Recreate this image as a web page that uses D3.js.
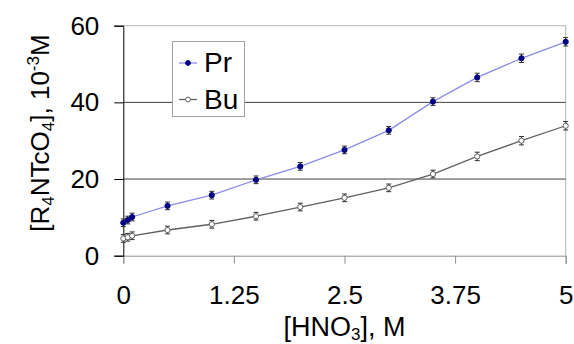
<!DOCTYPE html>
<html><head><meta charset="utf-8">
<script src="https://cdn.jsdelivr.net/npm/d3@7"></script>
<style>body{margin:0;background:#fff}svg{display:block;font-family:"Liberation Sans",Arial,sans-serif}</style>
</head><body><svg id="c" width="574" height="344"></svg>
<script>
const hno3 = [0, 0.05, 0.1, 0.5, 1, 1.5, 2, 2.5, 3, 3.5, 4, 4.5, 5];
const prValues = [8.6, 9.3, 10.1, 13.0, 15.8, 19.8, 23.3, 27.6, 32.7, 40.2, 46.5, 51.5, 55.8];
const buValues = [4.5, 4.8, 5.2, 6.7, 8.2, 10.3, 12.7, 15.1, 17.7, 21.3, 25.9, 30.0, 33.9];
const prErrors = [1.0, 1.0, 1.0, 1.0, 1.0, 1.0, 1.0, 1.0, 1.0, 1.0, 1.1, 1.1, 1.1];
const buErrors = [1.0, 1.0, 1.0, 1.0, 1.0, 1.0, 1.0, 1.0, 1.0, 1.0, 1.1, 1.1, 1.1];
const xTicks = [0, 1.25, 2.5, 3.75, 5];
const xTickLabels = ["0", "1.25", "2.5", "3.75", "5"];
const yTicks = [0, 20, 40, 60];
const seriesNames = ["Pr", "Bu"];

const svg = d3.select("#c");
const L = 123.3, R = 565.7, T = 25.7, B = 255.7;
const x = d3.scaleLinear().domain([0, 5]).range([L, R]);
const y = d3.scaleLinear().domain([0, 60]).range([B, T]);

// plot border (top/right)
svg.append("line").attr("x1", L).attr("x2", R).attr("y1", T).attr("y2", T).attr("stroke", "#b4b4b4");
svg.append("line").attr("x1", R).attr("x2", R).attr("y1", T).attr("y2", B).attr("stroke", "#b4b4b4");
// gridlines
svg.append("g").selectAll("line").data([20, 40]).join("line")
  .attr("x1", L).attr("x2", R).attr("y1", d => y(d)).attr("y2", d => y(d))
  .attr("stroke", "#404040");

// axes
const xAxis = svg.append("g").attr("transform", `translate(0,${B})`)
  .call(d3.axisBottom(x).tickValues(xTicks).tickFormat((d, i) => xTickLabels[i]).tickSize(8).tickPadding(22));
xAxis.select(".domain").attr("stroke", "#909090");
xAxis.selectAll(".tick line").attr("stroke", "#909090");
xAxis.selectAll("text").attr("font-size", 26).attr("fill", "#000").attr("font-family", "Liberation Sans, Arial, sans-serif");

const yAxis = svg.append("g").attr("transform", `translate(${L},0)`)
  .call(d3.axisLeft(y).tickValues(yTicks).tickSize(9).tickPadding(15));
yAxis.select(".domain").attr("stroke", "#000");
yAxis.selectAll(".tick line").attr("stroke", "#000");
yAxis.selectAll("text").attr("font-size", 26).attr("fill", "#000").attr("font-family", "Liberation Sans, Arial, sans-serif");

// axis titles
const xt = svg.append("text").attr("x", (L + R) / 2).attr("y", 336).attr("text-anchor", "middle").attr("font-size", 27);
xt.append("tspan").text("[HNO");
xt.append("tspan").text("3").attr("font-size", 17).attr("dy", 4);
xt.append("tspan").text("], M").attr("dy", -4);

const yt = svg.append("text").attr("transform", "translate(49,133) rotate(-90)").attr("text-anchor", "middle").attr("font-size", 26);
yt.append("tspan").text("[R");
yt.append("tspan").text("4").attr("font-size", 17).attr("dy", 5);
yt.append("tspan").text("NTcO").attr("dy", -5);
yt.append("tspan").text("4").attr("font-size", 17).attr("dy", 5);
yt.append("tspan").text("], 10").attr("dy", -5);
yt.append("tspan").text("-3").attr("font-size", 17).attr("dy", -10);
yt.append("tspan").text("M").attr("dy", 10);

const series = [
  {name: seriesNames[0], values: prValues, errors: prErrors, line: "#8c8cec", mfill: "#000080", mstroke: "#000080"},
  {name: seriesNames[1], values: buValues, errors: buErrors, line: "#606060", mfill: "#fff", mstroke: "#606060"}
];
const lineGen = d3.line().x(d => x(d[0])).y(d => y(d[1]));
series.forEach(s => {
  const pts = hno3.map((h, i) => [h, s.values[i], s.errors[i]]);
  svg.append("path").datum(pts).attr("d", lineGen).attr("fill", "none").attr("stroke", s.line).attr("stroke-width", 1.3);
  const eb = svg.append("g").attr("stroke", "#303030").attr("stroke-width", 1);
  eb.selectAll("line.v").data(pts).join("line")
    .attr("x1", d => x(d[0])).attr("x2", d => x(d[0])).attr("y1", d => y(d[1] - d[2])).attr("y2", d => y(d[1] + d[2]));
  eb.selectAll("line.t").data(pts).join("line")
    .attr("x1", d => x(d[0]) - 2.5).attr("x2", d => x(d[0]) + 2.5).attr("y1", d => y(d[1] + d[2])).attr("y2", d => y(d[1] + d[2]));
  eb.selectAll("line.b").data(pts).join("line")
    .attr("x1", d => x(d[0]) - 2.5).attr("x2", d => x(d[0]) + 2.5).attr("y1", d => y(d[1] - d[2])).attr("y2", d => y(d[1] - d[2]));
  svg.append("g").selectAll("circle").data(pts).join("circle")
    .attr("cx", d => x(d[0])).attr("cy", d => y(d[1])).attr("r", 2.6)
    .attr("fill", s.mfill).attr("stroke", s.mstroke).attr("stroke-width", 1);
});

// legend
const lg = svg.append("g");
lg.append("rect").attr("x", 172.5).attr("y", 41.5).attr("width", 72).attr("height", 75)
  .attr("fill", "#fff").attr("stroke", "#a0a0a0").attr("stroke-width", 1);
const ly = [63, 99.5];
series.forEach((s, i) => {
  lg.append("line").attr("x1", 179).attr("x2", 197).attr("y1", ly[i]).attr("y2", ly[i]).attr("stroke", s.line).attr("stroke-width", 1.3);
  lg.append("circle").attr("cx", 188).attr("cy", ly[i]).attr("r", 2.4).attr("fill", s.mfill).attr("stroke", s.mstroke);
  lg.append("text").attr("x", 204).attr("y", ly[i] + 9).attr("font-size", 28).text(s.name);
});
</script></body></html>
